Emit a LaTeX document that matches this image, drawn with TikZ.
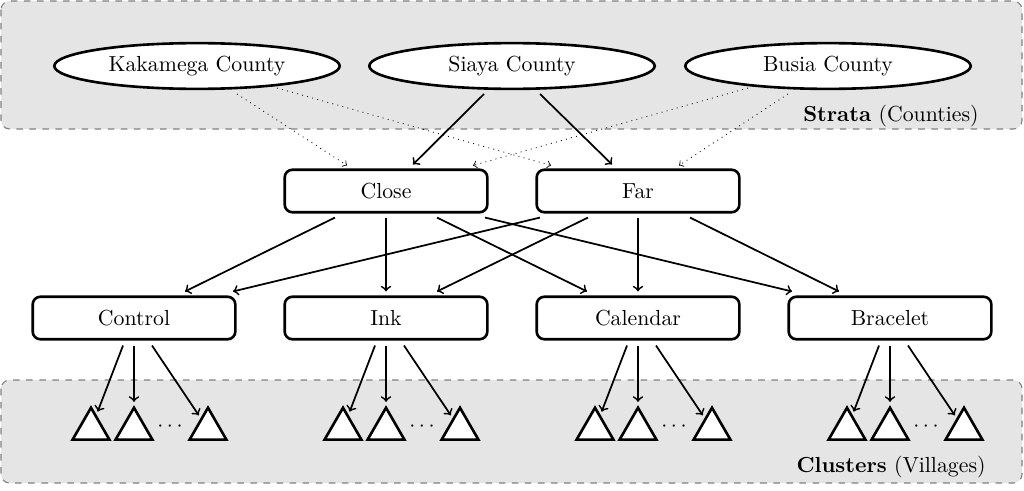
\documentclass[tikz,border=0pt]{standalone}
\usetikzlibrary{shapes.geometric,calc}
\begin{document}
\begin{tikzpicture}[x=0.459pt,y=-0.459pt,
  region/.style={draw=gray, dashed, fill=gray!20, rounded corners=4pt, line width=0.5pt},
  county/.style={ellipse, draw, very thick, fill=white, minimum width=131pt, minimum height=21pt, inner sep=0pt},
  box/.style={draw, very thick, rounded corners=3.5pt, fill=white, minimum width=93pt, minimum height=19.5pt, inner sep=0pt},
  tri/.style={regular polygon, regular polygon sides=3, draw, very thick, fill=white, minimum size=19.5pt, inner sep=0pt},
  arr/.style={->, >=to, thick},
  tarr/.style={->, >=to, thick, shorten >=1.5pt},
  darr/.style={->, >=to, dotted, thin},
  lbl/.style={anchor=east, inner sep=0pt}]
\useasboundingbox (0,0) rectangle (1024,490);
\path[region] (1,1) rectangle (1022,129);
\path[region] (1,380) rectangle (1022,483);
\node[lbl] (strata) at (979,116) {\textbf{Strata} (Counties)};
\node[lbl] (clus) at (986,467) {\textbf{Clusters} (Villages)};
\node[county] (kak) at (197,66) {Kakamega County};
\node[county] (sia) at (512,66) {Siaya County};
\node[county] (bus) at (828,66) {Busia County};
\node[box] (close) at (386,191) {Close};
\node[box] (far) at (638,191) {Far};
\node[box] (ctrl) at (134,318) {Control};
\node[box] (ink) at (386,318) {Ink};
\node[box] (cal) at (638,318) {Calendar};
\node[box] (brc) at (890,318) {Bracelet};
% strata to distance
\draw[arr] ($(sia.center)+(-28,28)$) -- ($(close.north)+(27,-4)$);
\draw[arr] ($(sia.center)+(28,28)$) -- ($(far.north)+(-26,-4)$);
\draw[darr] ($(kak.center)+(40,28)$) -- ($(close.north)+(-39,-3)$);
\draw[darr] ($(kak.center)+(80,22)$) -- ($(far.north)+(-87,-3)$);
\draw[darr] ($(bus.center)+(-80,22)$) -- ($(close.north)+(87,-3)$);
\draw[darr] ($(bus.center)+(-40,28)$) -- ($(far.north)+(41,-3)$);
% distance to treatment
\draw[arr] ($(close.south)+(-51,4)$) -- ($(ctrl.north)+(51,-4)$);
\draw[arr] ($(close.south)+(0,4)$) -- ($(ink.north)+(0,-4)$);
\draw[arr] ($(close.south)+(51,4)$) -- ($(cal.north)+(-51,-4)$);
\draw[arr] ($(close.south)+(99,4)$) -- ($(brc.north)+(-98,-4)$);
\draw[arr] ($(far.south)+(-98,4)$) -- ($(ctrl.north)+(99,-4)$);
\draw[arr] ($(far.south)+(-50,4)$) -- ($(ink.north)+(51,-4)$);
\draw[arr] ($(far.south)+(0,4)$) -- ($(cal.north)+(0,-4)$);
\draw[arr] ($(far.south)+(52,4)$) -- ($(brc.north)+(-51,-4)$);
% clusters
\foreach \n/\cx in {ctrl/134, ink/386, cal/638, brc/890} {
  \node[tri] (\n-1) at (\cx-43,429) {};
  \node[tri] (\n-2) at (\cx,429) {};
  \node[tri] (\n-3) at (\cx+74,429) {};
  \node (\n-d) at (\cx+36,427) {$\cdots$};
  \coordinate (\n-a) at ($(\n.south)+(-11,5)$);
  \coordinate (\n-b) at ($(\n.south)+(0,5)$);
  \coordinate (\n-c) at ($(\n.south)+(18,5)$);
  \draw[tarr] (\n-a) -- (\n-1);
  \draw[tarr] (\n-b) -- (\n-2);
  \draw[tarr] (\n-c) -- (\n-3);
}
\end{tikzpicture}
\end{document}
